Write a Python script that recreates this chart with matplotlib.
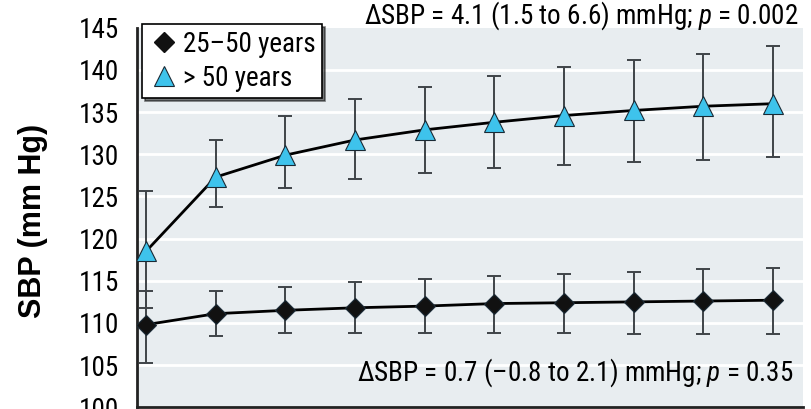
import matplotlib
matplotlib.use('Agg')
import matplotlib.pyplot as plt
from matplotlib.lines import Line2D

# Visits (x) and SBP means with error bars
visits = [1, 2, 3, 4, 5, 6, 7, 8, 9, 10]

young_mean = [109.8, 111.1, 111.5, 111.8, 112.0, 112.3, 112.4, 112.5, 112.6, 112.7]
young_upper = [113.8, 113.8, 114.3, 114.8, 115.2, 115.6, 115.8, 116.1, 116.4, 116.5]
young_lower = [105.3, 108.5, 108.8, 108.8, 108.8, 108.8, 108.8, 108.7, 108.7, 108.7]

old_mean = [118.5, 127.3, 129.9, 131.7, 132.9, 133.8, 134.6, 135.2, 135.7, 136.0]
old_upper = [125.7, 131.7, 134.6, 136.5, 138.0, 139.3, 140.4, 141.2, 141.9, 142.8]
old_lower = [111.8, 123.7, 126.0, 127.1, 127.8, 128.4, 128.7, 129.1, 129.3, 129.7]

yticks = [100, 105, 110, 115, 120, 125, 130, 135, 140, 145]
labels = ['25\u201350 years', '> 50 years']
note_top = '\u0394SBP = 4.1 (1.5 to 6.6) mmHg; $p$ = 0.002'
note_bottom = '\u0394SBP = 0.7 (\u20130.8 to 2.1) mmHg; $p$ = 0.35'

plt.rcParams['font.family'] = ['Roboto Condensed', 'DejaVu Sans']
plt.rcParams['mathtext.fontset'] = 'custom'
plt.rcParams['mathtext.it'] = 'Roboto Condensed:italic'
plt.rcParams['mathtext.rm'] = 'Roboto Condensed'

tri_color = '#3ec3ec'
err_color = '#3f4448'
fs = 19.5

fig = plt.figure(figsize=(8.11, 4.09), dpi=100)
ax = fig.add_axes([137 / 811, 1 - 407.3 / 409, 666 / 811, 379.5 / 409])
ax.set_facecolor('#e8edf0')

for y in yticks[1:-1]:
    ax.axhline(y, color='white', linewidth=2, zorder=0)

def draw(mean, lower, upper, marker, color, ms):
    yerr = [[m - lo for m, lo in zip(mean, lower)], [up - m for m, up in zip(mean, upper)]]
    ax.errorbar(visits, mean, yerr=yerr, fmt='none', ecolor=err_color,
                elinewidth=1.4, capsize=5, capthick=1.4, zorder=2)
    ax.plot(visits, mean, color='black', linewidth=2, zorder=3)
    ax.plot(visits, mean, linestyle='none', marker=marker, markersize=ms,
            markerfacecolor=color, markeredgecolor='#1a2a35', markeredgewidth=0.8,
            zorder=4)

draw(young_mean, young_lower, young_upper, 'D', '#111111', 10.5)
draw(old_mean, old_lower, old_upper, '^', tri_color, 15)

ax.set_xlim(0.87, 10.43)
ax.set_ylim(100, 145)
ax.set_yticks(yticks)
ax.set_xticks([])
ax.tick_params(axis='y', length=0, pad=13, labelsize=fs)
for s in ['top', 'right']:
    ax.spines[s].set_visible(False)
for s in ['left', 'bottom']:
    ax.spines[s].set_linewidth(2)
    ax.spines[s].set_color('#222222')

ax.set_ylabel('SBP (mm Hg)', fontsize=22, fontweight='bold',
              family=['Liberation Sans', 'DejaVu Sans'])
ax.yaxis.set_label_coords(-0.133, 0.49)

handles = [
    Line2D([], [], linestyle='none', marker='D', markersize=10, markerfacecolor='#111111',
           markeredgecolor='#111111'),
    Line2D([], [], linestyle='none', marker='^', markersize=15, markerfacecolor=tri_color,
           markeredgecolor='#1a2a35', markeredgewidth=0.8),
]
leg = fig.legend(handles, labels, loc='upper left', bbox_to_anchor=(142 / 811, 1 - 24 / 409),
                 fontsize=fs, frameon=True, fancybox=False, shadow={'color': 'black'},
                 borderpad=0.25, handletextpad=0.15, handlelength=1.1, labelspacing=0.25,
                 borderaxespad=0)
leg.get_frame().set_edgecolor('black')
leg.get_frame().set_linewidth(1.2)
leg.get_frame().set_alpha(1)

fig.text(798 / 811, 1 - 16 / 409, note_top, ha='right', va='center', fontsize=fs)
fig.text(793 / 811, 1 - 373 / 409, note_bottom, ha='right', va='center', fontsize=fs)

fig.savefig('out.png', dpi=100)
